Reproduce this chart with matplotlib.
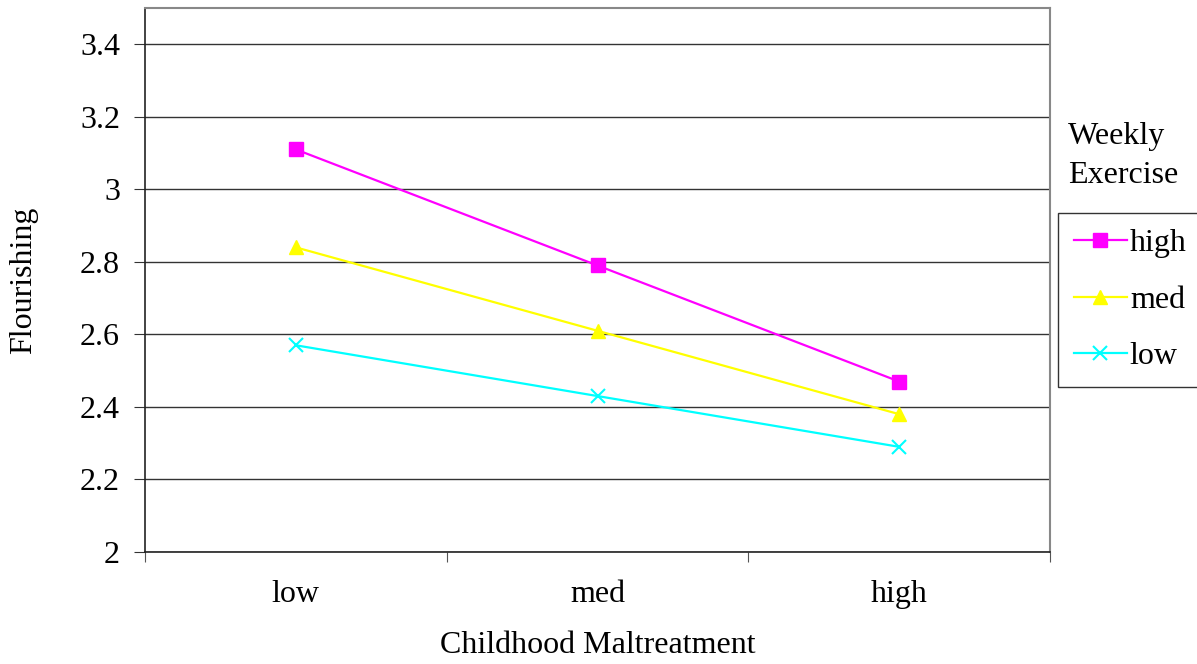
import matplotlib
matplotlib.use('Agg')
from matplotlib import pyplot as plt

# data
categories = ['low', 'med', 'high']
high_ex = [3.11, 2.79, 2.47]
med_ex = [2.84, 2.61, 2.38]
low_ex = [2.57, 2.43, 2.29]
yticks = [2, 2.2, 2.4, 2.6, 2.8, 3, 3.2, 3.4]
ytick_labels = ['2', '2.2', '2.4', '2.6', '2.8', '3', '3.2', '3.4']

plt.rcParams['font.family'] = ['Liberation Serif', 'DejaVu Serif']
fs = 23

fig = plt.figure(figsize=(11.97, 6.64), dpi=100)
ax = fig.add_axes([145/1197, 1-552/664, (1050-145)/1197, (552-8)/664])

x = range(len(categories))
ax.plot(x, high_ex, color='#FF00FF', marker='s', markersize=10, lw=1.6, label='high')
ax.plot(x, med_ex, color='#FFFF00', marker='^', markersize=10, lw=1.6, label='med')
ax.plot(x, low_ex, color='#00FFFF', marker='x', markersize=10, mew=1.5, lw=1.6, label='low')

ax.set_xlim(-0.5, 2.5)
ax.set_ylim(2, 3.5)
ax.set_yticks(yticks)
ax.set_yticklabels(ytick_labels, fontsize=fs)
ax.yaxis.grid(True, color='#333333', lw=1)
ax.set_axisbelow(True)

# category ticks between groups, labels centered
ax.set_xticks([-0.5, 0.5, 1.5, 2.5])
ax.set_xticklabels([])
ax.set_xticks([0, 1, 2], minor=True)
ax.set_xticklabels(categories, minor=True, fontsize=fs)
ax.tick_params(axis='x', which='minor', length=0, pad=20)
ax.tick_params(axis='x', which='major', length=7, color='#555555')
ax.tick_params(axis='y', length=8, pad=10, color='#333333')

for side in ['top', 'right']:
    ax.spines[side].set_color('#888888')
    ax.spines[side].set_linewidth(1.5)
ax.spines['left'].set_color('#222222')
ax.spines['bottom'].set_color('#222222')
ax.spines['left'].set_linewidth(1.2)
ax.spines['bottom'].set_linewidth(1.2)

ax.set_ylabel('Flourishing', fontsize=fs, labelpad=30)
ax.set_xlabel('Childhood Maltreatment', fontsize=fs, labelpad=16)

fig.text(1068/1197, 1-190/664, 'Weekly\nExercise', fontsize=fs, ha='left', va='bottom',
         linespacing=1.45)

leg = fig.legend(loc='upper left', bbox_to_anchor=(1058/1197, 1-213/664), fontsize=fs,
                 frameon=True, fancybox=False, edgecolor='black', handlelength=1.65,
                 handletextpad=0.1, borderaxespad=0, labelspacing=0.85, borderpad=0.5)
leg.get_frame().set_linewidth(1.0)

fig.savefig('out.png', dpi=100)
